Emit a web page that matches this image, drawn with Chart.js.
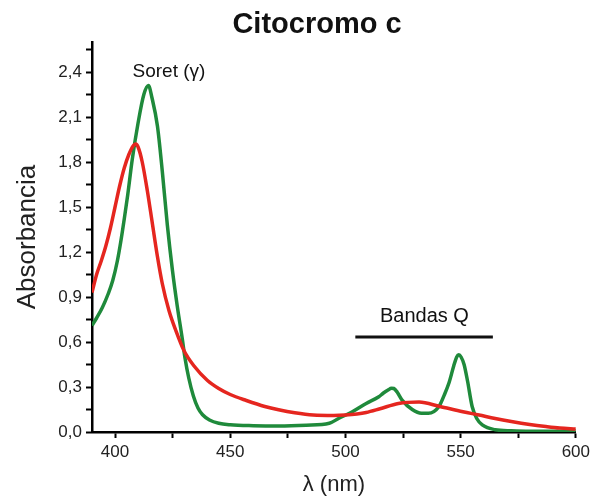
<!DOCTYPE html>
<html>
<head>
<meta charset="utf-8">
<script src="https://cdn.jsdelivr.net/npm/chart.js@4/dist/chart.umd.min.js"></script>
<style>
  body { margin: 0; background: #fff; }
  #chart { display: block; }
</style>
</head>
<body>
<canvas id="chart" width="594" height="500"></canvas>
<script>
// Oxidised form (red)
const redWavelengths = [390, 392, 394, 396, 398, 400, 402, 404, 406, 408, 409, 410, 411.8, 414, 416.2, 418.4, 420.5, 423.4, 426.3, 430, 434.3, 440, 445, 450, 457, 465, 471, 478, 486, 495, 500, 505, 509, 515, 523, 532, 541, 551, 558, 565, 572, 580, 587, 593, 600];
const redAbsorbance = [0.93, 1.05, 1.14, 1.24, 1.36, 1.50, 1.64, 1.76, 1.85, 1.91, 1.92, 1.90, 1.80, 1.61, 1.39, 1.17, 0.99, 0.81, 0.68, 0.54, 0.44, 0.345, 0.29, 0.25, 0.21, 0.17, 0.148, 0.128, 0.113, 0.11, 0.113, 0.12, 0.13, 0.155, 0.19, 0.2, 0.17, 0.135, 0.113, 0.09, 0.07, 0.05, 0.036, 0.026, 0.02];

// Reduced form (green)
const greenWavelengths = [390, 392, 394.5, 397, 399, 401, 402.5, 404, 405.5, 407.5, 410, 412.5, 414.5, 416, 418.4, 420.5, 422.7, 424.9, 427, 429.2, 430.4, 432, 434, 436, 438, 441, 445, 450, 460, 471, 483, 493, 497, 503, 509, 514.5, 516.5, 518.5, 520, 521, 522.5, 524.6, 529, 533, 536, 540.6, 543, 545, 547, 548.3, 549.2, 550.2, 551.5, 553, 555, 557, 559.4, 565, 572, 580, 590, 600];
const greenAbsorbance = [0.71, 0.76, 0.83, 0.92, 1.01, 1.14, 1.27, 1.42, 1.58, 1.82, 2.06, 2.25, 2.31, 2.23, 2.04, 1.74, 1.38, 1.08, 0.84, 0.62, 0.49, 0.36, 0.24, 0.16, 0.115, 0.08, 0.058, 0.048, 0.042, 0.04, 0.045, 0.058, 0.09, 0.135, 0.19, 0.235, 0.26, 0.28, 0.292, 0.29, 0.265, 0.213, 0.15, 0.125, 0.125, 0.17, 0.25, 0.33, 0.44, 0.5, 0.515, 0.5, 0.45, 0.34, 0.17, 0.09, 0.047, 0.015, 0.008, 0.005, 0.005, 0.008];

const xTicks = [400, 425, 450, 475, 500, 525, 550, 575, 600];
const yTicks = [0, 0.15, 0.3, 0.45, 0.6, 0.75, 0.9, 1.05, 1.2, 1.35, 1.5, 1.65, 1.8, 1.95, 2.1, 2.25, 2.4, 2.55];

const FONT = '"Liberation Sans", Arial, sans-serif';

const toPoints = (xs, ys) => xs.map((x, i) => ({ x: x, y: ys[i] }));

/**
 * Title and band annotations
 */
const annotationsPlugin = {
    id: 'annotations',
    afterDraw(chart) {
        const ctx = chart.ctx;
        const xs = chart.scales.x;
        const ys = chart.scales.y;
        ctx.save();
        ctx.fillStyle = '#111';
        ctx.textAlign = 'center';
        ctx.textBaseline = 'middle';

        ctx.font = 'bold 29px ' + FONT;
        ctx.fillText('Citocromo c', 317, 25);

        ctx.font = '19px ' + FONT;
        ctx.fillText('Soret (\u03b3)', xs.getPixelForValue(423.4), ys.getPixelForValue(2.4));

        ctx.font = '20px ' + FONT;
        ctx.fillText('Bandas Q', xs.getPixelForValue(534.3), ys.getPixelForValue(0.767));

        // bar under the Q band label
        ctx.strokeStyle = '#111';
        ctx.lineWidth = 3;
        ctx.beginPath();
        ctx.moveTo(xs.getPixelForValue(504.3), ys.getPixelForValue(0.633));
        ctx.lineTo(xs.getPixelForValue(564), ys.getPixelForValue(0.633));
        ctx.stroke();
        ctx.restore();
    }
};

new Chart(document.getElementById('chart'), {
    type: 'line',
    data: {
        datasets: [
            {
                label: 'Oxidado',
                data: toPoints(redWavelengths, redAbsorbance),
                borderColor: '#e5261f',
                borderWidth: 3.5,
                pointRadius: 0,
                cubicInterpolationMode: 'monotone',
                fill: false,
            },
            {
                label: 'Reducido',
                data: toPoints(greenWavelengths, greenAbsorbance),
                borderColor: '#1f8a3b',
                borderWidth: 3.5,
                pointRadius: 0,
                cubicInterpolationMode: 'monotone',
                fill: false,
            },
        ],
    },
    options: {
        responsive: false,
        animation: false,
        devicePixelRatio: 1,
        layout: {
            padding: { top: 42, right: 17, left: 0, bottom: 0 },
        },
        plugins: {
            legend: { display: false },
            tooltip: { enabled: false },
        },
        scales: {
            x: {
                type: 'linear',
                min: 390,
                max: 600,
                afterBuildTicks: (scale) => {
                    scale.ticks = xTicks.map(v => ({ value: v }));
                },
                afterFit: (scale) => {
                    scale.height = 68;
                },
                ticks: {
                    autoSkip: false,
                    maxRotation: 0,
                    color: '#222',
                    padding: 4,
                    font: { size: 17, family: FONT },
                    callback: (value) => (value % 50 === 0 ? value : ''),
                },
                grid: {
                    drawOnChartArea: false,
                    drawTicks: true,
                    tickLength: 6,
                    tickWidth: 2,
                    tickColor: '#000',
                },
                border: { display: true, color: '#000', width: 2.5 },
                title: {
                    display: true,
                    text: '\u03bb (nm)',
                    color: '#222',
                    font: { size: 22, family: FONT },
                    padding: { top: 0, bottom: 2 },
                },
            },
            y: {
                min: 0,
                max: 2.6,
                afterBuildTicks: (scale) => {
                    scale.ticks = yTicks.map(v => ({ value: v }));
                },
                afterFit: (scale) => {
                    scale.width = 92;
                },
                ticks: {
                    autoSkip: false,
                    color: '#222',
                    padding: 4,
                    font: { size: 17, family: FONT },
                    callback: (value) => {
                        const steps = Math.round(value / 0.15);
                        return steps % 2 === 0 ? value.toFixed(1).replace('.', ',') : '';
                    },
                },
                grid: {
                    drawOnChartArea: false,
                    drawTicks: true,
                    tickLength: 6,
                    tickWidth: 2,
                    tickColor: '#000',
                },
                border: { display: true, color: '#000', width: 2.5 },
                title: {
                    display: true,
                    text: 'Absorbancia',
                    color: '#222',
                    font: { size: 26, family: FONT },
                    padding: { top: 12, bottom: 0 },
                },
            },
        },
    },
    plugins: [annotationsPlugin],
});
</script>
</body>
</html>
